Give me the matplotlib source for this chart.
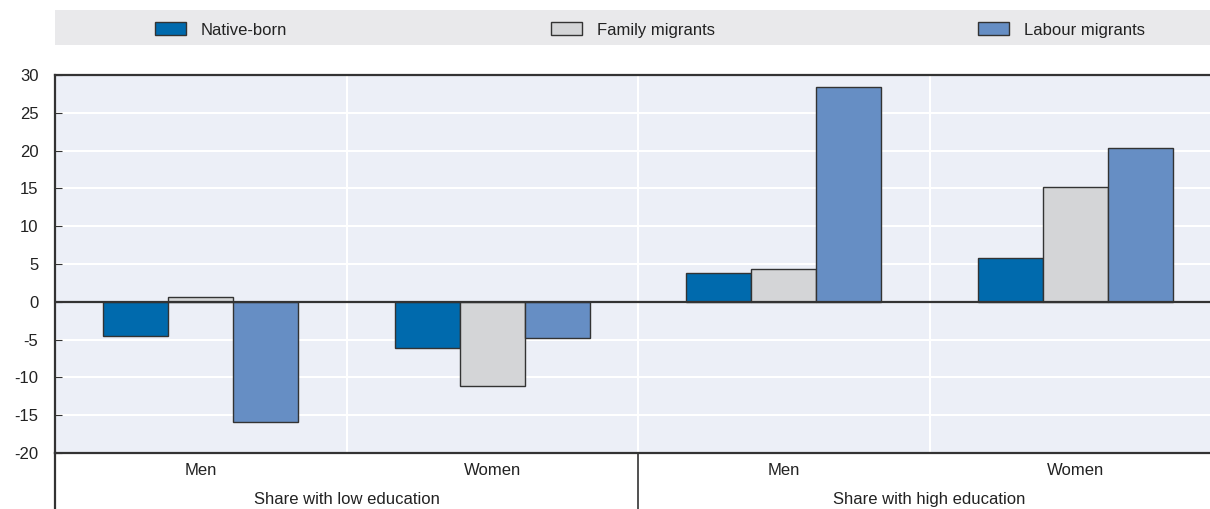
import numpy as np
import matplotlib.pyplot as plt
from matplotlib.patches import Rectangle
from matplotlib.lines import Line2D

plt.rcParams['font.family'] = ['Liberation Sans Narrow', 'Liberation Sans', 'DejaVu Sans']

# data
sub_labels = ['Men', 'Women', 'Men', 'Women']
main_labels = ['Share with low education', 'Share with high education']
series = ['Native-born', 'Family migrants', 'Labour migrants']
native = [-4.5, -6.1, 3.8, 5.8]
family = [0.7, -11.2, 4.4, 15.2]
labour = [-15.9, -4.8, 28.4, 20.3]
yticks = [-20, -15, -10, -5, 0, 5, 10, 15, 20, 25, 30]

colors = ['#006AAD', '#D4D5D7', '#668EC4']
edge = '#333333'
bg = '#ECEFF7'

fig = plt.figure(figsize=(12.1, 5.09), dpi=100)
# the plot area runs a little past the right edge of the image
ax = fig.add_axes([55 / 1210, 1 - 453 / 509, (1221 - 55) / 1210, (453 - 75) / 509])
ax.set_facecolor(bg)

x = np.arange(len(sub_labels))
w = 0.223
for i, (vals, name) in enumerate(zip([native, family, labour], series)):
    ax.bar(x + (i - 1) * w, vals, width=w, color=colors[i], edgecolor=edge,
           linewidth=1.0, label=name, zorder=3)

ax.set_xlim(-0.5, 3.5)
ax.set_ylim(-20, 30)
ax.set_yticks(yticks)
ax.set_yticklabels([str(t) for t in yticks])
ax.grid(axis='y', color='white', linewidth=1.5, zorder=0)
for b in [0.5, 1.5, 2.5]:
    ax.axvline(b, color='white', linewidth=1.5, zorder=1)
ax.axhline(0, color=edge, linewidth=1.6, zorder=4)

ax.spines['right'].set_visible(False)
for s in ['top', 'left', 'bottom']:
    ax.spines[s].set_color(edge)
    ax.spines[s].set_linewidth(1.6)

ax.tick_params(axis='y', direction='in', length=5, pad=12, labelsize=12,
               color=edge, labelcolor='#222222')
ax.set_xticks(x)
ax.set_xticklabels(sub_labels)
ax.tick_params(axis='x', length=0, pad=7, labelsize=12, labelcolor='#222222')

# second-level category labels
trans = ax.get_xaxis_transform()
for pos, lab in zip([0.5, 2.5], main_labels):
    ax.text(pos, -0.123, lab, transform=trans, ha='center', va='center',
            fontsize=12, color='#222222')
for pos in [-0.5, 1.5]:
    ax.add_line(Line2D([pos, pos], [0, -0.16], transform=trans, color=edge,
                       linewidth=1.6 if pos < 0 else 1.2, clip_on=False))

# legend band
fig.patches.append(Rectangle((55 / 1210, 1 - 45 / 509), 1 - 55 / 1210, 35 / 509,
                             transform=fig.transFigure, facecolor='#E9E9EB',
                             edgecolor='none', zorder=0))
handles, labels = ax.get_legend_handles_labels()
fig.legend(handles, labels, loc='center', ncol=3,
           bbox_to_anchor=(650 / 1210, 1 - 30 / 509), frameon=False,
           fontsize=12, handlelength=1.85, handleheight=0.8, handletextpad=0.9,
           columnspacing=15.8, labelcolor='#222222')

fig.savefig('out.png', dpi=100)
